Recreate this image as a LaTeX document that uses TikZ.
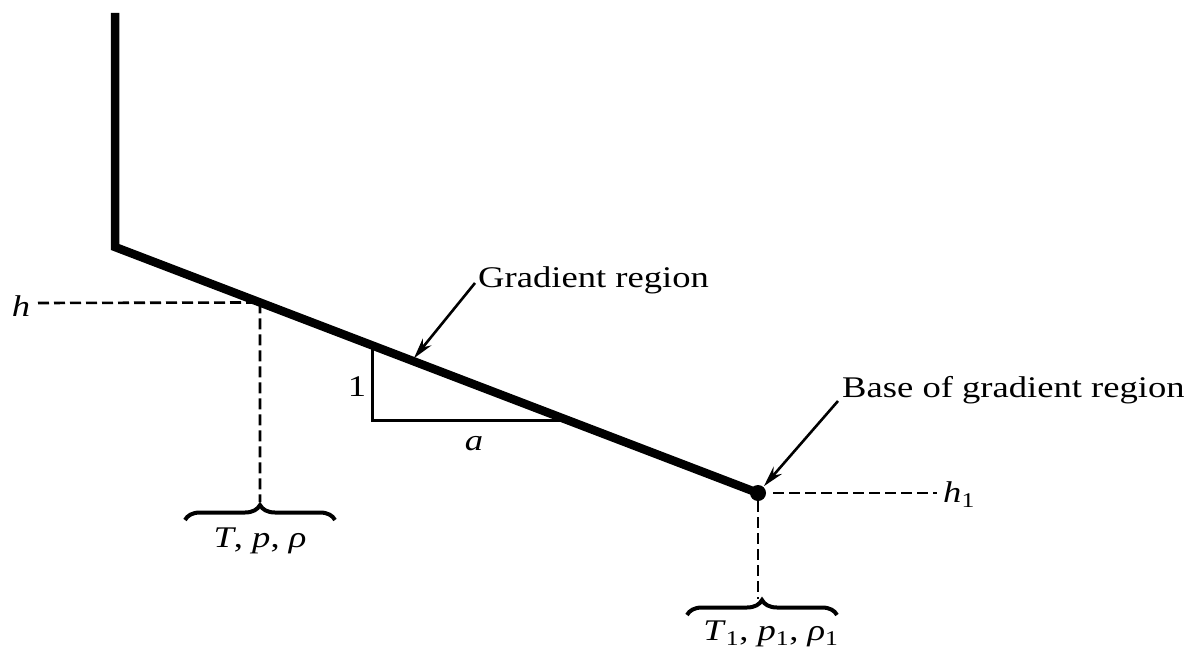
\documentclass[tikz,border=0pt]{standalone}
\usepackage{fontspec}
\setmainfont{Liberation Serif}
\usetikzlibrary{decorations.pathreplacing,arrows.meta,calc}
\newcommand\wlbl[1]{\scalebox{1.22}[1]{#1}}
\begin{document}
\begin{tikzpicture}[x=1pt,y=-1pt,
  wall/.style={line width=8.5pt,line join=miter,line cap=butt},
  guide/.style={line width=2.6pt,dash pattern=on 11pt off 5pt},
  thinline/.style={line width=3pt,line join=miter},
  pointer/.style={line width=2.6pt,-{Stealth[length=21pt,width=11pt]}},
  bracestyle/.style={line width=4pt,decorate,decoration={brace,amplitude=15pt}},
  lbl/.style={inner sep=0pt,font=\fontsize{30}{34}\selectfont}]
\useasboundingbox (0,0) rectangle (1199,658);
% main profile
\coordinate (top) at (115,13);
\coordinate (corner) at (115,247);
\coordinate (base) at (758,493);
\draw[wall] (top) -- (corner) -- (base);
\fill (base) circle (8pt);
% points on the slope
\path (corner) -- (base) coordinate[pos=0.2255] (hpt)
                         coordinate[pos=0.4619] (gtip);
\coordinate (tri1) at (372,345.5);
\coordinate (tri2) at (372,420);
\coordinate (tri3) at (567,420);
\draw[thinline] (tri1) -- (tri2) -- (tri3);
% labels
\node[lbl] (hlab) at (21,306) {\wlbl{\textit{h}}};
\node[lbl,anchor=base west] (h1lab) at (943,502) {\wlbl{\textit{h}\textsubscript{1}}};
\node[lbl] (onelab) at (357,387) {\wlbl{1}};
\node[lbl] (alab) at (474,444) {\wlbl{\textit{a}}};
\node[lbl,anchor=base west] (glab) at (478,287) {\wlbl{Gradient region}};
\node[lbl,anchor=base west] (blab) at (842,397) {\wlbl{Base of gradient region}};
\node[lbl,anchor=base] (tlab) at (260,547) {\wlbl{\textit{T}, \textit{p}, \textit{ρ}}};
\node[lbl,anchor=base] (t1lab) at (771,640) {\wlbl{\textit{T}\textsubscript{1}, \textit{p}\textsubscript{1}, \textit{ρ}\textsubscript{1}}};
% dashed guides
\coordinate (hend) at (38,303);
\coordinate (hdown) at (260,502);
\coordinate (b1) at (773,493);
\coordinate (b2) at (937,493);
\coordinate (bdown) at (758,599);
\draw[guide] (hend) -- (hpt);
\draw[guide] (hpt) -- (hdown);
\draw[guide] (b1) -- (b2);
\draw[guide] ($(base)+(0,8)$) -- (bdown);
% braces
\coordinate (br1a) at (185,520);
\coordinate (br1b) at (335,520);
\coordinate (br2a) at (687,615);
\coordinate (br2b) at (837,615);
\draw[bracestyle] (br1a) -- (br1b);
\draw[bracestyle] (br2a) -- (br2b);
% pointers
\draw[pointer,shorten >=3pt] (glab.base west) ++(-3,-4) -- (gtip);
\draw[pointer,shorten >=9pt] (blab.base west) ++(-4,4) -- (base);
\end{tikzpicture}
\end{document}
